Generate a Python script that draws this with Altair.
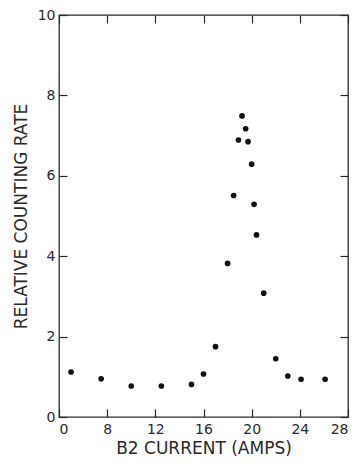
import altair as alt
import pandas as pd

# B2 current (amps) and relative counting rate
current = [5.0, 7.5, 10.0, 12.5, 15.0, 16.0, 17.0, 18.0, 18.5, 18.9, 19.2,
           19.5, 19.7, 20.0, 20.2, 20.4, 21.0, 22.0, 23.0, 24.1, 26.1]
rate = [1.12, 0.95, 0.77, 0.77, 0.81, 1.07, 1.75, 3.82, 5.51, 6.89, 7.49,
        7.17, 6.85, 6.29, 5.29, 4.53, 3.08, 1.45, 1.02, 0.94, 0.94]

x_ticks = [4, 8, 12, 16, 20, 24, 28]
x_tick_labels = ["0", "8", "12", "16", "20", "24", "28"]
y_ticks = [0, 2, 4, 6, 8, 10]

df = pd.DataFrame({"current": current, "rate": rate})

label_expr = "[" + ",".join("'%s'" % s for s in x_tick_labels) + "][indexof([" + \
    ",".join(str(v) for v in x_ticks) + "], datum.value)]"

FONT = "DejaVu Sans"
INK = "#2a2a2a"

xscale = alt.Scale(domain=[4, 28], nice=False, zero=False)
yscale = alt.Scale(domain=[0, 10], nice=False)

points = alt.Chart(df).mark_circle(size=32, opacity=1, color="#111111").encode(
    x=alt.X("current:Q", scale=xscale,
            axis=alt.Axis(values=x_ticks, labelExpr=label_expr, orient="bottom",
                          title="B2 CURRENT (AMPS)", labelPadding=5, titlePadding=4)),
    y=alt.Y("rate:Q", scale=yscale,
            axis=alt.Axis(values=y_ticks, orient="left",
                          title="RELATIVE COUNTING RATE", labelPadding=4, titlePadding=7)),
)

frame_axes = alt.Chart(df).mark_circle(opacity=0).encode(
    x=alt.X("current:Q", scale=xscale,
            axis=alt.Axis(values=x_ticks, orient="top", labels=False, title=None)),
    y=alt.Y("rate:Q", scale=yscale,
            axis=alt.Axis(values=y_ticks, orient="right", labels=False, title=None)),
)

chart = alt.layer(points, frame_axes).resolve_axis(
    x="independent", y="independent"
).properties(
    width=289, height=402,
    autosize=alt.AutoSizeParams(type="none"),
    padding={"left": 51, "top": 7, "right": 4, "bottom": 45},
).configure_view(
    stroke=INK, strokeWidth=1.3
).configure_axis(
    domain=False, grid=False, offset=-8, tickSize=8, tickWidth=1.2,
    tickColor=INK, labelColor=INK, titleColor=INK,
    labelFont=FONT, titleFont=FONT, labelFontSize=14, titleFontSize=17,
    titleFontWeight="normal",
)

chart.save("out.html", embed_options={"renderer": "svg", "actions": False})
